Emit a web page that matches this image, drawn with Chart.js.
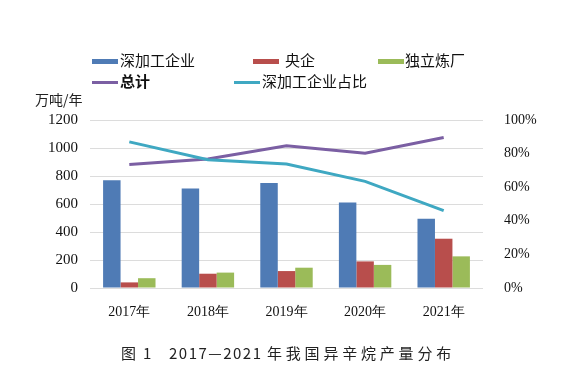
<!DOCTYPE html>
<html>
<head>
<meta charset="utf-8">
<script src="https://cdn.jsdelivr.net/npm/chart.js@4"></script>
<style>
    body { margin: 0; background: #fff; }
    #wrap { position: relative; width: 571px; height: 383px; }
    #chart { position: absolute; left: 0; top: 0; }
    .lg { position: absolute; font: 15px "Noto Sans CJK SC", sans-serif; color: #111; line-height: 18px; white-space: nowrap; }
    .sw { position: absolute; width: 26px; }
    #unit { position: absolute; left: 35px; top: 89px; font: 14px "Noto Sans CJK SC", sans-serif; color: #222; }
    .cap { position: absolute; top: 342px; font: 15px "Noto Sans CJK SC", sans-serif; color: #222; white-space: pre; }
</style>
</head>
<body>
<div id="wrap">
    <canvas id="chart" width="571" height="383"></canvas>
    <div id="unit">万吨/年</div>
    <div class="cap" style="left:121px">图</div>
    <div class="cap" style="left:143px">1</div>
    <div class="cap" style="left:169px; letter-spacing:1.5px">2017—2021</div>
    <div class="cap" style="left:267px; letter-spacing:3.8px">年我国异辛烷产量分布</div>
</div>
<script>
// Data: 2017-2021 年我国异辛烷产量 (万吨/年)
const years      = ['2017年', '2018年', '2019年', '2020年', '2021年'];
const shenjiagong = [770, 710, 750, 610, 495];
const yangqi      = [40, 102, 121, 190, 352];
const duli        = [70, 110, 145, 165, 226];
const zongji      = [882, 922, 1016, 962, 1075];
const zhanbi      = [87, 76.4, 73.8, 63.5, 46];   // %
const leftTicks   = [0, 200, 400, 600, 800, 1000, 1200];
const rightTicks  = [0, 20, 40, 60, 80, 100];

const names  = ['深加工企业', '央企', '独立炼厂', '总计', '深加工企业占比'];
const colors = ['#4F7BB5', '#B84E4C', '#9BBB59', '#7B5FA3', '#3FA8C2'];

// 图例 (HTML)
const legendPos = [
    { x: 92, y: 61, tx: 120, line: false },
    { x: 253, y: 61, tx: 285, line: false },
    { x: 378, y: 61, tx: 405, line: false },
    { x: 92, y: 82, tx: 120, line: true, bold: true },
    { x: 234, y: 82, tx: 262, line: true }
];
const wrap = document.getElementById('wrap');
legendPos.forEach((p, i) => {
    const sw = document.createElement('div');
    sw.className = 'sw';
    const h = p.line ? 3 : 5;
    sw.style.left = p.x + 'px';
    sw.style.top = (p.y - h / 2) + 'px';
    sw.style.height = h + 'px';
    sw.style.background = colors[i];
    wrap.appendChild(sw);
    const t = document.createElement('div');
    t.className = 'lg';
    t.style.left = p.tx + 'px';
    t.style.top = (p.y - 10) + 'px';
    if (p.bold) t.style.fontWeight = 'bold';
    t.textContent = names[i];
    wrap.appendChild(t);
});

const serif = { family: '"Liberation Serif", "Times New Roman", serif', size: 15 };

new Chart(document.getElementById('chart').getContext('2d'), {
    type: 'bar',
    data: {
        labels: years,
        datasets: [
            { label: names[0], data: shenjiagong, backgroundColor: colors[0], yAxisID: 'y', order: 2 },
            { label: names[1], data: yangqi, backgroundColor: colors[1], yAxisID: 'y', order: 2 },
            { label: names[2], data: duli, backgroundColor: colors[2], yAxisID: 'y', order: 2 },
            {
                type: 'line', label: names[3], data: zongji, borderColor: colors[3],
                borderWidth: 3, pointRadius: 0, tension: 0, yAxisID: 'y', order: 1
            },
            {
                type: 'line', label: names[4], data: zhanbi, borderColor: colors[4],
                borderWidth: 3, pointRadius: 0, tension: 0, yAxisID: 'y1', order: 0
            }
        ]
    },
    options: {
        responsive: false,
        animation: false,
        layout: { padding: { top: 120, left: 0, right: 0, bottom: 0 } },
        plugins: { legend: { display: false }, tooltip: { enabled: false } },
        datasets: { bar: { categoryPercentage: 0.667, barPercentage: 1 } },
        scales: {
            x: {
                grid: { display: false },
                border: { display: false },
                ticks: { font: { ...serif, size: 14 }, color: '#111', padding: 8 },
                afterFit: s => { s.height = 95; }
            },
            y: {
                position: 'left',
                min: 0, max: 1200,
                afterBuildTicks: s => { s.ticks = leftTicks.map(v => ({ value: v })); },
                grid: { color: '#dcdcdc', drawTicks: false, lineWidth: 1 },
                border: { display: false },
                ticks: { font: serif, color: '#111', padding: 12, callback: v => String(v) },
                afterFit: s => { s.width = 90; }
            },
            y1: {
                position: 'right',
                min: 0, max: 100,
                afterBuildTicks: s => { s.ticks = rightTicks.map(v => ({ value: v })); },
                grid: { display: false },
                border: { display: false },
                ticks: { font: { ...serif, size: 14 }, color: '#111', padding: 13, callback: v => v + '%' },
                afterFit: s => { s.width = 88; }
            }
        }
    }
});
</script>
</body>
</html>
